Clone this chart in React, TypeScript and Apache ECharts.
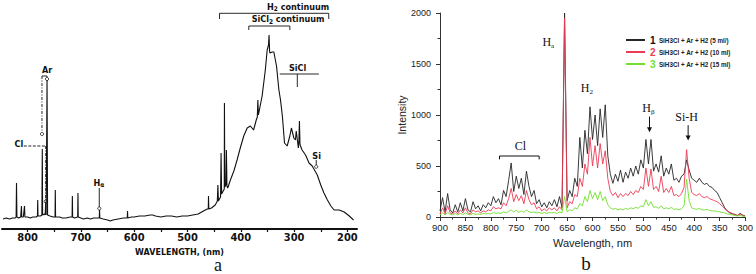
import React, { useEffect, useRef } from 'react';
import * as echarts from 'echarts';

// ---------- Panel (a): scanned emission spectrum (arbitrary units, height above axis) ----------
const A_WL = [
  846, 840, 834, 828, 823, 821.5, 820.8, 820, 817, 813, 811.5, 811, 808, 805.8, 805, 800, 795, 790, 784,
  781.5, 781, 780.5, 776, 773.2, 772.4, 771.8, 768, 767, 766, 765.2, 763.5, 762.5, 758, 752, 748.5, 748,
  747.5, 740, 735, 728, 720, 716.5, 716, 715.5, 712, 706, 705.5, 705, 700, 695, 688, 682, 676, 668, 665.5,
  665, 664.5, 658, 650, 645, 640, 630, 620, 613, 612.5, 612, 605, 600, 590, 580, 570, 565, 560, 550, 540,
  530, 520, 510, 500, 490, 480, 470, 463, 461, 460.6, 460, 455, 448, 444, 443, 442, 438, 437, 436, 433,
  431, 430.7, 430, 428, 427, 426, 424.5, 419.5, 413, 407, 401, 394.5, 388, 382, 376, 371, 369, 368, 367,
  366, 360, 354, 350.5, 348, 347, 346, 345.5, 341, 338, 333, 328.5, 325.5, 322, 318, 313, 308, 305, 300.5,
  297.5, 296, 292, 291, 290, 289, 288, 285, 278.5, 272, 266, 256.5, 250, 244, 237.5, 231, 225, 215.5, 206,
  196.5, 188.5,
];
const A_VAL = [
  10, 11, 10, 11, 11, 12, 46, 12, 11, 12, 23, 12, 12, 23, 12, 12, 11, 12, 12,
  13, 29, 13, 13, 14, 80, 14, 15, 14, 27, 14, 149, 14, 13, 12, 12, 39,
  12, 12, 11, 11, 12, 12, 33, 12, 11, 12, 36, 12, 11, 10, 11, 10, 11, 11, 11,
  19, 11, 10, 9, 8, 9, 10, 11, 11, 18, 11, 12, 12, 13, 13, 14, 14, 13, 12, 13,
  13, 12, 13, 13, 14, 15, 18, 20, 20, 33, 20, 21, 24, 28, 44, 28, 32, 76, 35, 38,
  40, 126, 42, 44, 79, 43, 41, 49, 58, 69, 81, 93, 101, 103, 99, 109, 112, 129, 114,
  114, 133, 159, 179, 184, 194, 178, 176, 177, 177, 163, 139, 129, 113, 86, 83, 93, 101, 91,
  89, 98, 81, 88, 108, 85, 83, 79, 74, 66, 63, 54, 44, 36, 29, 23, 19, 19, 17,
  13, 9,
];
const A_LABELS = [800, 700, 600, 500, 400, 300, 200];
const A_TICKS = [800, 750, 700, 650, 600, 550, 500, 450, 400, 350, 300, 250, 200];

// ---------- Panel (b): three spectra, sampled every 5 nm from 900 to 300 nm ----------
const B_WL: number[] = [];
for (let w = 900; w >= 300; w -= 5) B_WL.push(w);

const B_NAMES = ['SiH3Cl + Ar + H2 (5 ml/)', 'SiH3Cl + Ar + H2 (10 ml)', 'SiH3Cl + Ar + H2 (15 ml)'];
const B_COLORS = ['#262626', '#ec3a55', '#72e02c'];

const B_BLACK = [
  60, 190, 50, 230, 70, 40, 120, 50, 140, 60, 180, 70, 50, 150, 80, 110, 60, 120, 90, 140,
  110, 200, 140, 180, 120, 260, 200, 360, 530, 250, 400, 280, 380, 220, 450, 300, 200, 260, 130, 170,
  100, 140, 90, 150, 110, 170, 100, 200, 90, 2000, 160, 260, 200, 380, 300, 780, 480, 850, 620, 1080,
  760, 1000, 700, 1060, 780, 1100, 600, 420, 330, 420, 350, 460, 340, 440, 380, 480, 400, 500, 420, 560,
  480, 760, 520, 760, 450, 520, 440, 600, 400, 480, 420, 520, 360, 380, 340, 400, 420, 560, 460, 380,
  360, 340, 380, 340, 320, 330, 300, 290, 260, 240, 190, 140, 90, 60, 40, 30, 25, 15, 35, 20,
  10,
];
const B_RED = [
  30, 90, 30, 110, 40, 30, 60, 30, 70, 40, 90, 40, 30, 70, 50, 60, 40, 60, 50, 70,
  60, 100, 80, 90, 80, 140, 110, 180, 280, 150, 220, 160, 210, 130, 260, 170, 120, 140, 80, 100,
  60, 80, 60, 90, 70, 90, 60, 100, 70, 1950, 90, 150, 130, 220, 200, 380, 300, 520, 420, 780,
  500, 700, 480, 720, 520, 650, 380, 250, 210, 240, 190, 230, 200, 230, 210, 250, 220, 260, 240, 300,
  270, 480, 300, 470, 270, 300, 250, 400, 240, 280, 240, 300, 210, 220, 200, 230, 290, 660, 380, 240,
  220, 210, 230, 200, 190, 200, 180, 170, 160, 150, 130, 110, 80, 60, 45, 35, 25, 15, 30, 15,
  8,
];
const B_GREEN = [
  20, 40, 20, 45, 25, 20, 35, 20, 35, 25, 40, 25, 20, 35, 25, 30, 25, 35, 30, 35,
  30, 45, 35, 40, 35, 50, 40, 55, 70, 50, 65, 45, 60, 45, 70, 50, 45, 50, 40, 45,
  35, 45, 35, 45, 40, 45, 35, 50, 40, 200, 50, 70, 60, 90, 80, 130, 110, 200, 150, 260,
  180, 240, 170, 250, 160, 200, 120, 90, 75, 85, 70, 80, 70, 85, 75, 90, 80, 95, 85, 110,
  100, 170, 110, 150, 95, 100, 85, 110, 80, 90, 80, 95, 75, 80, 70, 80, 110, 370, 160, 90,
  80, 75, 85, 70, 70, 75, 65, 60, 60, 55, 50, 45, 40, 30, 25, 20, 15, 10, 15, 8,
  5,
];
const B_SERIES = [B_BLACK, B_RED, B_GREEN];

const NARROW = "'Liberation Sans Narrow', 'DejaVu Sans Condensed', 'Liberation Sans', sans-serif";
const SERIF = "'Liberation Serif', 'DejaVu Serif', serif";
const SANS = "'Liberation Sans', Arial, sans-serif";

export default function App() {
  const ref = useRef<HTMLDivElement>(null);

  useEffect(() => {
    document.body.style.margin = '0';
    if (!ref.current) return;
    const chart = echarts.init(ref.current, undefined, { renderer: 'svg' });

    const axisLabelB = { fontFamily: SANS, fontSize: 9.5, color: '#222', formatter: (v: number) => String(v) };

    chart.setOption({
      animation: false,
      backgroundColor: '#fff',
      grid: [
        { left: 2, width: 355, top: 0, height: 229 },
        { left: 440, width: 307, top: 13, height: 204 },
      ],
      xAxis: [
        {
          gridIndex: 0, type: 'value', inverse: true, min: 182, max: 848,
          axisLine: { show: true, onZero: false, lineStyle: { color: '#111', width: 2 } },
          axisTick: { show: true, customValues: A_TICKS, length: 3, lineStyle: { color: '#111', width: 1.2 } },
          axisLabel: { customValues: A_LABELS, margin: 3, fontFamily: NARROW, fontWeight: 'bold', fontSize: 11, color: '#111', formatter: (v: number) => String(v) },
          splitLine: { show: false },
          name: 'WAVELENGTH, (nm)', nameLocation: 'middle', nameGap: 10,
          nameTextStyle: { fontFamily: "'DejaVu Sans', sans-serif", fontWeight: 'bold', fontSize: 8, color: '#111', lineHeight: 9 },
        },
        {
          gridIndex: 1, type: 'value', inverse: true, min: 300, max: 900, interval: 50,
          axisLine: { show: true, onZero: false, lineStyle: { color: '#333', width: 1 } },
          axisTick: { show: true, length: 4, lineStyle: { color: '#333' } },
          minorTick: { show: true, splitNumber: 2, length: 2.5, lineStyle: { color: '#333' } },
          axisLabel: { ...axisLabelB, margin: 5 },
          splitLine: { show: false },
          name: 'Wavelength, nm', nameLocation: 'middle', nameGap: 20,
          nameTextStyle: { fontFamily: SANS, fontSize: 11, color: '#222' },
        },
      ],
      yAxis: [
        { gridIndex: 0, type: 'value', min: 0, max: 229, show: false },
        {
          gridIndex: 1, type: 'value', min: 0, max: 2000, interval: 500,
          axisLine: { show: true, lineStyle: { color: '#333', width: 1 } },
          axisTick: { show: true, length: 4, lineStyle: { color: '#333' } },
          minorTick: { show: true, splitNumber: 2, length: 2.5, lineStyle: { color: '#333' } },
          axisLabel: { ...axisLabelB, fontSize: 9, margin: 9 },
          splitLine: { show: false },
          name: 'Intensity', nameLocation: 'middle', nameGap: 31,
          nameTextStyle: { fontFamily: SANS, fontSize: 10.5, color: '#222' },
        },
      ],
      legend: {
        orient: 'vertical', left: 621, top: 29, itemWidth: 19, itemHeight: 2, itemGap: 0, icon: 'rect',
        data: B_NAMES,
        formatter: (name: string) => {
          const i = B_NAMES.indexOf(name);
          return `{n${i + 1}|${i + 1}} {t|${name}}`;
        },
        textStyle: {
          rich: {
            n1: { color: '#111', fontWeight: 'bold', fontSize: 10, fontFamily: SANS, lineHeight: 10.5 },
            n2: { color: B_COLORS[1], fontWeight: 'bold', fontSize: 10, fontFamily: SANS, lineHeight: 10.5 },
            n3: { color: B_COLORS[2], fontWeight: 'bold', fontSize: 10, fontFamily: SANS, lineHeight: 10.5 },
            t: { color: '#222', fontWeight: 'bold', fontSize: 6.3, fontFamily: SANS, lineHeight: 10.5 },
          },
        },
      },
      series: [
        {
          type: 'line', xAxisIndex: 0, yAxisIndex: 0, showSymbol: false, symbol: 'none', silent: true,
          lineStyle: { color: '#111', width: 1.1 },
          data: A_WL.map((w, i) => [w, A_VAL[i]]),
        },
        ...B_SERIES.map((vals, s) => ({
          name: B_NAMES[s], type: 'line', xAxisIndex: 1, yAxisIndex: 1, showSymbol: false, symbol: 'none',
          color: B_COLORS[s], lineStyle: { color: B_COLORS[s], width: 0.9 },
          data: B_WL.map((w, i) => [w, vals[i]]),
        })),
      ],
    });

    const P = (g: number, x: number, y: number) => chart.convertToPixel({ gridIndex: g }, [x, y]) as number[];
    const stroke = '#111';
    const seg = (g: number, x1: number, y1: number, x2: number, y2: number, dash?: number[], w = 0.9) => {
      const a = P(g, x1, y1), b = P(g, x2, y2);
      return { type: 'line', silent: true, shape: { x1: a[0], y1: a[1], x2: b[0], y2: b[1] }, style: { stroke, lineWidth: w, lineDash: dash } };
    };
    const dot = (g: number, x: number, y: number) => {
      const a = P(g, x, y);
      return { type: 'circle', silent: true, shape: { cx: a[0], cy: a[1], r: 1.6 }, style: { fill: '#fff', stroke, lineWidth: 0.8 } };
    };
    const txt = (g: number, x: number, y: number, text: string, style: any) => {
      const a = P(g, x, y);
      return { type: 'text', silent: true, x: a[0], y: a[1], style: { text, align: 'center', verticalAlign: 'middle', fill: '#111', ...style } };
    };
    const arrow = (g: number, x: number, y1: number, y2: number) => {
      const a = P(g, x, y1), b = P(g, x, y2);
      return [
        { type: 'line', silent: true, shape: { x1: a[0], y1: a[1], x2: b[0], y2: b[1] - 4 }, style: { stroke: '#111', lineWidth: 1 } },
        { type: 'polygon', silent: true, shape: { points: [[b[0] - 2.5, b[1] - 5], [b[0] + 2.5, b[1] - 5], [b[0], b[1]]] }, style: { fill: '#111' } },
      ];
    };

    const annA = { fontFamily: NARROW, fontWeight: 'bold', fontSize: 9 };
    const richA = {
      m: { fontFamily: NARROW, fontWeight: 'bold', fontSize: 9, lineHeight: 12, fill: '#111' },
      s: { fontFamily: NARROW, fontWeight: 'bold', fontSize: 6.5, lineHeight: 6, verticalAlign: 'bottom', fill: '#111' },
    };
    const richB = {
      m: { fontFamily: SERIF, fontSize: 12, lineHeight: 14, fill: '#111' },
      s: { fontFamily: SERIF, fontSize: 7, lineHeight: 7, verticalAlign: 'bottom', fill: '#111' },
    };

    const graphics: any[] = [
      // Panel (a) annotations
      seg(0, 440, 215.7, 235, 215.7), seg(0, 440, 215.7, 440, 210), seg(0, 235, 215.7, 235, 210),
      txt(0, 292.6, 222.5, '{m|H}{s|2}{m| continuum}', { rich: richA }),
      seg(0, 385, 203, 308, 203), seg(0, 385, 203, 385, 199), seg(0, 308, 203, 308, 199),
      txt(0, 311.4, 210, '{m|SiCl}{s|2}{m| continuum}', { rich: richA }),
      seg(0, 327, 155, 253.5, 155), seg(0, 294, 155, 294, 142),
      txt(0, 293.5, 161, 'SiCl', annA),
      txt(0, 257.8, 73.5, 'Si', annA), seg(0, 258.5, 69, 258.5, 64), dot(0, 258.5, 62.3),
      txt(0, 666, 46.5, '{m|H}{s|α}', { rich: richA }), seg(0, 665.5, 41, 665.5, 22), dot(0, 665.5, 20.5),
      txt(0, 763.5, 159, 'Ar', annA),
      seg(0, 773, 153, 763.5, 153), seg(0, 773, 153, 773, 97, [3, 1.5, 1, 1.5]), dot(0, 773, 95),
      seg(0, 763.5, 153, 763.5, 151.5), dot(0, 763.5, 150),
      txt(0, 816.4, 85.5, 'Cl', annA),
      seg(0, 807, 83, 766, 83, [3, 1.5]), seg(0, 766, 83, 766, 29, [3, 1.5, 1, 1.5]), dot(0, 766, 27.5),
      { type: 'text', silent: true, x: 218, y: 265, style: { text: 'a', fontFamily: SERIF, fontSize: 18, lineHeight: 12, fill: '#111', align: 'center', verticalAlign: 'middle' } },
      // Panel (b) annotations
      txt(1, 687, 1715, '{m|H}{s|a}', { rich: richB }),
      txt(1, 611, 1264, '{m|H}{s|2}', { rich: richB }),
      txt(1, 490, 1068, '{m|H}{s|β}', { rich: richB }),
      ...arrow(1, 488, 985, 830),
      txt(1, 415, 985, 'Si-H', { fontFamily: SERIF, fontSize: 12 }),
      ...arrow(1, 412, 900, 750),
      txt(1, 742, 700, 'Cl', { fontFamily: SERIF, fontSize: 12 }),
      seg(1, 783, 598, 705, 598, undefined, 1), seg(1, 783, 598, 783, 565, undefined, 1), seg(1, 705, 598, 705, 565, undefined, 1),
      { type: 'text', silent: true, x: 586, y: 263, style: { text: 'b', fontFamily: SERIF, fontSize: 19, lineHeight: 14, fill: '#111', align: 'center', verticalAlign: 'middle' } },
    ];
    chart.setOption({ graphic: graphics });

    return () => chart.dispose();
  }, []);

  return <div ref={ref} style={{ width: 756, height: 274 }} />;
}
